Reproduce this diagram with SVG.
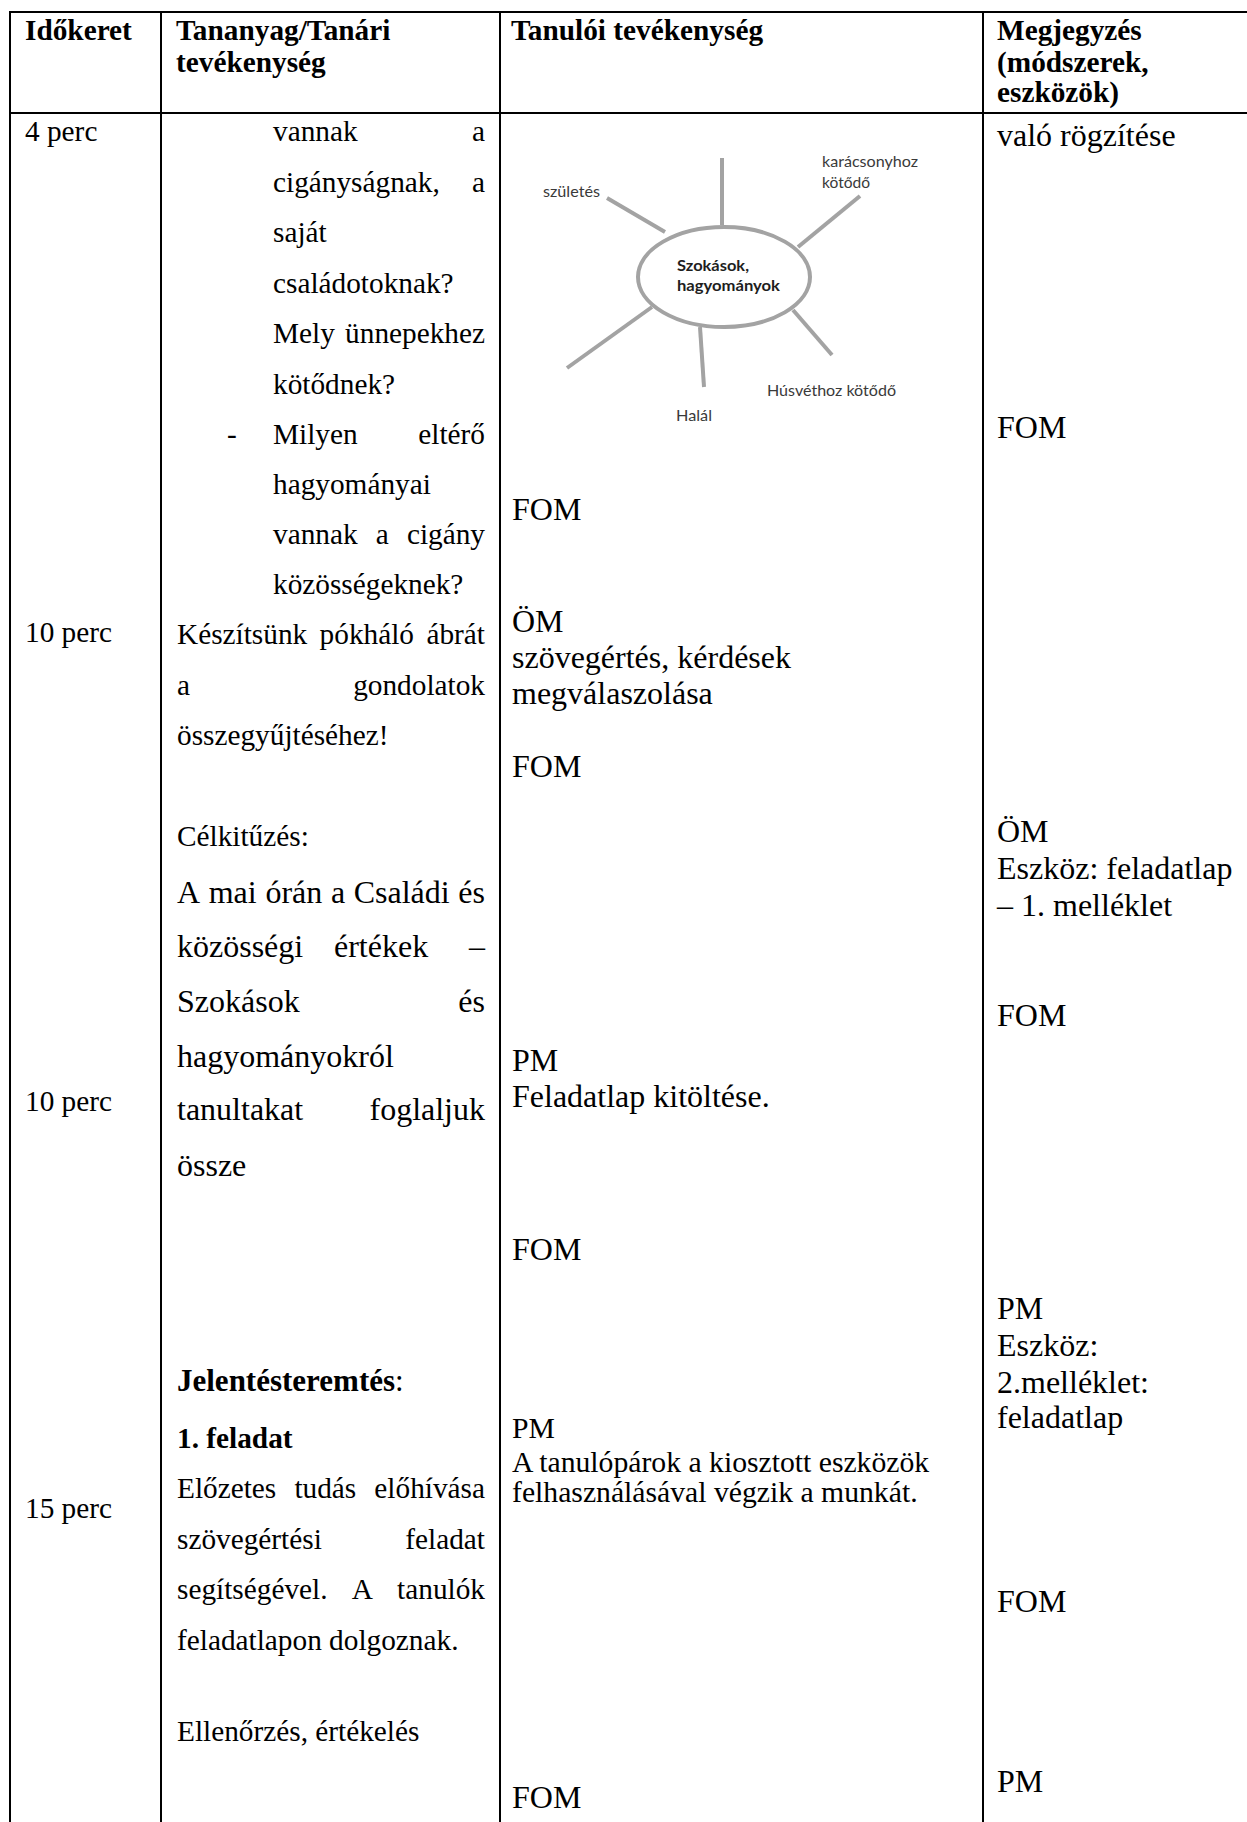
<svg xmlns="http://www.w3.org/2000/svg" width="1247" height="1822" viewBox="0 0 1247 1822">
<style>
.t { font-family: 'Liberation Serif', 'Times New Roman', serif; fill: #000; }
.h { font-size: 29.3px; font-weight: bold; }
.n { font-size: 29.3px; }
.m { font-size: 32px; }
.e { text-anchor: end; }
.bd { font-weight: bold; }
.grid line { stroke: #000; stroke-width: 2; }
.sp { font-family: Lato, 'Open Sans', 'Noto Sans', sans-serif; font-size: 15px; fill: #3a3a3a; }
.spb { font-weight: bold; fill: #1e1e1e; }
.spoke { stroke: #a3a3a3; stroke-width: 4; stroke-linecap: butt; fill: none; }
</style>
<rect width="1247" height="1822" fill="#fff"/>

<g id="table-grid" class="grid">
  <line x1="9" y1="12" x2="1247" y2="12"/>
  <line x1="9" y1="113" x2="1247" y2="113"/>
  <line x1="10" y1="11" x2="10" y2="1822"/>
  <line x1="161" y1="11" x2="161" y2="1822"/>
  <line x1="500" y1="11" x2="500" y2="1822"/>
  <line x1="983" y1="11" x2="983" y2="1822"/>
</g>

<g id="header" class="t h">
  <text x="25" y="40">Időkeret</text>
  <text x="176" y="40">Tananyag/Tanári</text>
  <text x="176" y="72">tevékenység</text>
  <text x="511" y="40">Tanulói tevékenység</text>
  <text x="997" y="40">Megjegyzés</text>
  <text x="997" y="72">(módszerek,</text>
  <text x="997" y="102">eszközök)</text>
</g>

<g id="col-idokeret" class="t n">
  <text x="25" y="141">4 perc</text>
  <text x="25" y="642">10 perc</text>
  <text x="25" y="1111">10 perc</text>
  <text x="25" y="1518">15 perc</text>
</g>

<g id="col-tananyag" class="t n">
  <text x="273" y="141">vannak</text><text class="e" x="485" y="141">a</text>
  <text x="273" y="191.5">cigányságnak,</text><text class="e" x="485" y="191.5">a</text>
  <text x="273" y="242">saját</text>
  <text x="273" y="292.5">családotoknak?</text>
  <text x="273" y="343">Mely</text><text class="e" x="485" y="343">ünnepekhez</text>
  <text x="273" y="393.5">kötődnek?</text>
  <text x="227" y="444">-</text><text x="273" y="444">Milyen</text><text class="e" x="485" y="444">eltérő</text>
  <text x="273" y="494">hagyományai</text>
  <text x="273" y="544">vannak</text><text x="375.8" y="544">a</text><text class="e" x="485" y="544">cigány</text>
  <text x="273" y="594">közösségeknek?</text>
  <text x="177" y="644">Készítsünk</text><text x="319.6" y="644">pókháló</text><text class="e" x="485" y="644">ábrát</text>
  <text x="177" y="694.5">a</text><text class="e" x="485" y="694.5">gondolatok</text>
  <text x="177" y="745">összegyűjtéséhez!</text>
  <text x="177" y="846">Célkitűzés:</text>
  <g class="m">
    <text x="177" y="903">A</text><text x="208.7" y="903">mai</text><text x="265.4" y="903">órán</text><text x="330.9" y="903">a</text><text x="353.7" y="903">Családi</text><text class="e" x="485" y="903">és</text>
    <text x="177" y="957">közösségi</text><text x="334" y="957">értékek</text><text class="e" x="485" y="957">–</text>
    <text x="177" y="1012">Szokások</text><text class="e" x="485" y="1012">és</text>
    <text x="177" y="1067">hagyományokról</text>
    <text x="177" y="1120">tanultakat</text><text class="e" x="485" y="1120">foglaljuk</text>
    <text x="177" y="1176">össze</text>
  </g>
  <text x="177" y="1391" style="font-size:31px"><tspan class="bd">Jelentésteremtés</tspan>:</text>
  <text x="177" y="1448" class="bd">1. feladat</text>
  <text x="177" y="1498">Előzetes</text><text x="294.4" y="1498">tudás</text><text class="e" x="485" y="1498">előhívása</text>
  <text x="177" y="1548.5">szövegértési</text><text class="e" x="485" y="1548.5">feladat</text>
  <text x="177" y="1599">segítségével.</text><text x="351.7" y="1599">A</text><text class="e" x="485" y="1599">tanulók</text>
  <text x="177" y="1649.5">feladatlapon dolgoznak.</text>
  <text x="177" y="1741">Ellenőrzés, értékelés</text>
</g>

<g id="spider-diagram">
  <g id="spider-spokes">
    <line class="spoke" x1="607" y1="198" x2="665" y2="232"/>
    <line class="spoke" x1="722" y1="158" x2="722" y2="225"/>
    <line class="spoke" x1="860" y1="196" x2="798" y2="247"/>
    <line class="spoke" x1="652" y1="307" x2="567" y2="368"/>
    <line class="spoke" x1="700" y1="327" x2="704" y2="387"/>
    <line class="spoke" x1="793" y1="310" x2="832" y2="355"/>
  </g>
  <g id="spider-center">
    <ellipse class="spoke" cx="724" cy="277" rx="86" ry="50"/>
    <text class="sp spb" x="677" y="271" textLength="72" lengthAdjust="spacingAndGlyphs">Szokások,</text>
    <text class="sp spb" x="677" y="291" textLength="103" lengthAdjust="spacingAndGlyphs">hagyományok</text>
  </g>
  <g id="spider-labels">
    <text class="sp" x="543" y="197" textLength="57" lengthAdjust="spacingAndGlyphs">születés</text>
    <text class="sp" x="822" y="167" textLength="96" lengthAdjust="spacingAndGlyphs">karácsonyhoz</text>
    <text class="sp" x="822" y="188" textLength="48" lengthAdjust="spacingAndGlyphs">kötődő</text>
    <text class="sp" x="767" y="396" textLength="129" lengthAdjust="spacingAndGlyphs">Húsvéthoz kötődő</text>
    <text class="sp" x="676" y="421" textLength="36" lengthAdjust="spacingAndGlyphs">Halál</text>
  </g>
</g>

<g id="col-tanuloi" class="t m">
  <text x="512" y="520">FOM</text>
  <text x="512" y="632">ÖM</text>
  <text x="512" y="668">szövegértés, kérdések</text>
  <text x="512" y="704">megválaszolása</text>
  <text x="512" y="777">FOM</text>
  <text x="512" y="1071">PM</text>
  <text x="512" y="1107">Feladatlap kitöltése.</text>
  <text x="512" y="1260">FOM</text>
  <g style="font-size:29.7px">
    <text x="512" y="1438">PM</text>
    <text x="512" y="1472">A tanulópárok a kiosztott eszközök</text>
    <text x="512" y="1502">felhasználásával végzik a munkát.</text>
  </g>
  <text x="512" y="1808">FOM</text>
</g>

<g id="col-megjegyzes" class="t m">
  <text x="997" y="146">való rögzítése</text>
  <text x="997" y="438">FOM</text>
  <text x="997" y="842">ÖM</text>
  <text x="997" y="879">Eszköz: feladatlap</text>
  <text x="997" y="916">– 1. melléklet</text>
  <text x="997" y="1026">FOM</text>
  <text x="997" y="1319">PM</text>
  <text x="997" y="1356">Eszköz:</text>
  <text x="997" y="1393">2.melléklet:</text>
  <text x="997" y="1428">feladatlap</text>
  <text x="997" y="1612">FOM</text>
  <text x="997" y="1792">PM</text>
</g>
</svg>
